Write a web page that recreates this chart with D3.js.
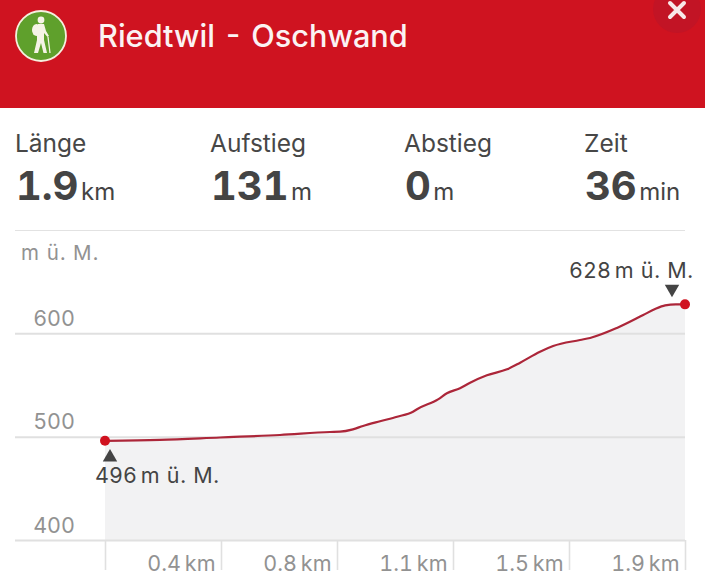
<!DOCTYPE html>
<html>
<head>
<meta charset="utf-8">
<script src="https://cdn.jsdelivr.net/npm/d3@7"></script>
<style>
  html, body { margin: 0; padding: 0; background: #fff; }
  svg { display: block; font-family: Inter, "Noto Sans", sans-serif; font-feature-settings: 'tnum'; }
</style>
</head>
<body>
<div id="chartArea"></div>
<script>
// profile
const distanceKm = [0, 0.18, 0.377, 0.573, 0.737, 0.77, 0.812, 0.845, 0.901, 0.957, 1.009, 1.025, 1.091, 1.12, 1.163, 1.196, 1.251, 1.317, 1.36, 1.425, 1.468, 1.556, 1.589, 1.677, 1.763, 1.802, 1.835, 1.87, 1.9];
const elevation = [496, 496.8, 499.2, 501.6, 504.5, 504.8, 507.1, 510.3, 514.9, 519.3, 524.1, 527, 536.1, 542, 546.8, 552.2, 559.4, 565.2, 571.6, 582.2, 587.7, 593.5, 595.5, 605.2, 617.7, 623.5, 627, 628, 628];

const elevationTicks = [400, 500, 600];
const distanceTicks = [0, 0.38, 0.76, 1.14, 1.52, 1.9];
const distanceLabels = ['', '0.4', '0.8', '1.1', '1.5', '1.9'];

const statLabels = ['Länge', 'Aufstieg', 'Abstieg', 'Zeit'];
const statValues = ['1.9', '131', '0', '36'];
const statUnits = ['km', 'm', 'm', 'min'];
const statColumns = [15, 210, 404, 584];

const title = 'Riedtwil - Oschwand';
const unitLabel = 'm ü. M.';

const width = 705;
const height = 586;
const margin = { top: 333.3, left: 105, bottom: 46, right: 20 };

const svg = d3.select('#chartArea').append('svg').attr('width', width).attr('height', height);

// Header
svg.append('rect').attr('width', width).attr('height', 108).attr('fill', '#cf1320');
svg.append('circle').attr('cx', 677).attr('cy', 9).attr('r', 24).attr('fill', '#c21425');
svg.append('path')
  .attr('d', 'M670 3L684 17M684 3L670 17')
  .attr('stroke', '#f8e8e8').attr('stroke-width', 4).attr('stroke-linecap', 'round');
svg.append('text')
  .attr('x', 98).attr('y', 46.5)
  .attr('font-size', 30.7).attr('font-weight', 500).attr('fill', '#fbf3f3')
  .text(title);

// Hiker icon
const icon = svg.append('g').attr('transform', 'translate(41,36)');
icon.append('circle').attr('r', 25).attr('fill', '#5fa02c').attr('stroke', '#f5f0df').attr('stroke-width', 1.8);
icon.append('circle').attr('cx', 0).attr('cy', -16).attr('r', 3.4).attr('fill', '#f5f3e6');
icon.append('ellipse').attr('cx', -4.5).attr('cy', -6).attr('rx', 4.5).attr('ry', 6).attr('fill', '#f5f3e6');
icon.append('path')
  .attr('fill', '#f5f3e6')
  .attr('d', 'M-3 -12L3 -12L5 -5L8 0L6.5 1L3 -3L3 4L6 17L2.5 17L0 7L-3 17L-7 17L-4 4L-4 0Z');
icon.append('path')
  .attr('stroke', '#f5f3e6').attr('stroke-width', 1.2)
  .attr('d', 'M7 1L9 17');

// Stats
statLabels.forEach((label, i) => {
  svg.append('text')
    .attr('x', statColumns[i]).attr('y', 152)
    .attr('font-size', 24.5).attr('fill', '#474747')
    .text(label);
  const t = svg.append('text').attr('x', statColumns[i] + 1).attr('y', 200).attr('fill', '#444');
  t.append('tspan').attr('font-size', 40).attr('font-weight', 700).text(statValues[i]);
  t.append('tspan').attr('dx', 2.5).attr('font-size', 24).text(statUnits[i]);
});
svg.append('line')
  .attr('x1', 15).attr('x2', 685).attr('y1', 230.5).attr('y2', 230.5)
  .attr('stroke', '#e2e2e2').attr('stroke-width', 1.2);

// Scales
const x = d3.scaleLinear().domain([0, 1.9]).range([margin.left, width - margin.right]);
const y = d3.scaleLinear().domain([400, 600]).range([540, margin.top]);

const area = d3.area()
  .x((d, i) => x(distanceKm[i]))
  .y0(y(400))
  .y1((d) => y(d))
  .curve(d3.curveMonotoneX);

const line = d3.line()
  .x((d, i) => x(distanceKm[i]))
  .y((d) => y(d))
  .curve(d3.curveMonotoneX);

svg.append('path').datum(elevation).attr('d', area).attr('fill', '#f2f2f3');

// Y-Axis
const yAxis = svg.append('g')
  .attr('transform', `translate(${margin.left},0)`)
  .call(d3.axisLeft(y).tickValues(elevationTicks).tickSize(0).tickSizeOuter(0).tickFormat(d3.format('d')));
yAxis.select('.domain').remove();
yAxis.selectAll('.tick line')
  .attr('x1', 15 - margin.left).attr('x2', width - margin.right - margin.left)
  .attr('stroke', '#e0e0e0').attr('stroke-width', 2);
yAxis.selectAll('.tick text')
  .attr('x', 75 - margin.left).attr('dy', -8)
  .attr('text-anchor', 'end')
  .attr('font-family', 'Inter, sans-serif').attr('font-size', 21.5).attr('fill', '#929292');

svg.append('text')
  .attr('x', 21).attr('y', 260)
  .attr('font-size', 20.5).attr('letter-spacing', 1.1).attr('fill', '#929292')
  .text(unitLabel);

// X-Axis, cut off at the bottom of the picture area
svg.append('clipPath').attr('id', 'axisClip').append('rect').attr('width', width).attr('height', 570);
const xAxis = svg.append('g')
  .attr('clip-path', 'url(#axisClip)')
  .attr('transform', 'translate(0,540)')
  .call(d3.axisBottom(x).tickValues(distanceTicks).tickSize(30).tickSizeOuter(0)
    .tickFormat((d, i) => distanceLabels[i]));
xAxis.select('.domain').remove();
xAxis.selectAll('.tick line').attr('stroke', '#e0e0e0').attr('stroke-width', 1.6);
xAxis.selectAll('.tick text')
  .attr('x', -6).attr('y', 31).attr('dy', 0)
  .attr('text-anchor', 'end')
  .attr('font-family', 'Inter, sans-serif').attr('font-size', 21.5).attr('fill', '#929292')
  .each(function (d, i) {
    if (distanceLabels[i]) d3.select(this).append('tspan').attr('dx', 4).text('km');
  });

// Profile line
svg.append('path').datum(elevation)
  .attr('d', line).attr('fill', 'none')
  .attr('stroke', '#ac2639').attr('stroke-width', 2.2);

const firstIdx = 0;
const lastIdx = elevation.length - 1;
[firstIdx, lastIdx].forEach((i) => {
  svg.append('circle')
    .attr('cx', x(distanceKm[i])).attr('cy', y(elevation[i]))
    .attr('r', 5).attr('fill', '#d0121f');
});

// Start and end markers
const triangle = d3.symbol().type(d3.symbolTriangle).size(90);
svg.append('path').attr('d', triangle)
  .attr('transform', `translate(${x(distanceKm[firstIdx]) + 5},${y(elevation[firstIdx]) + 16.5})`)
  .attr('fill', '#444');
svg.append('path').attr('d', triangle)
  .attr('transform', `translate(${x(distanceKm[lastIdx]) - 13},${y(elevation[lastIdx]) - 15.5}) rotate(180)`)
  .attr('fill', '#444');

const markerLabel = (px, py, value) => {
  const t = svg.append('text').attr('x', px).attr('y', py).attr('fill', '#444').attr('font-size', 21.5);
  t.append('tspan').text(value);
  t.append('tspan').attr('dx', 4).attr('letter-spacing', 0.7).text(unitLabel);
};
markerLabel(95, 483, 496);
markerLabel(569, 278, 628);
</script>
</body>
</html>
